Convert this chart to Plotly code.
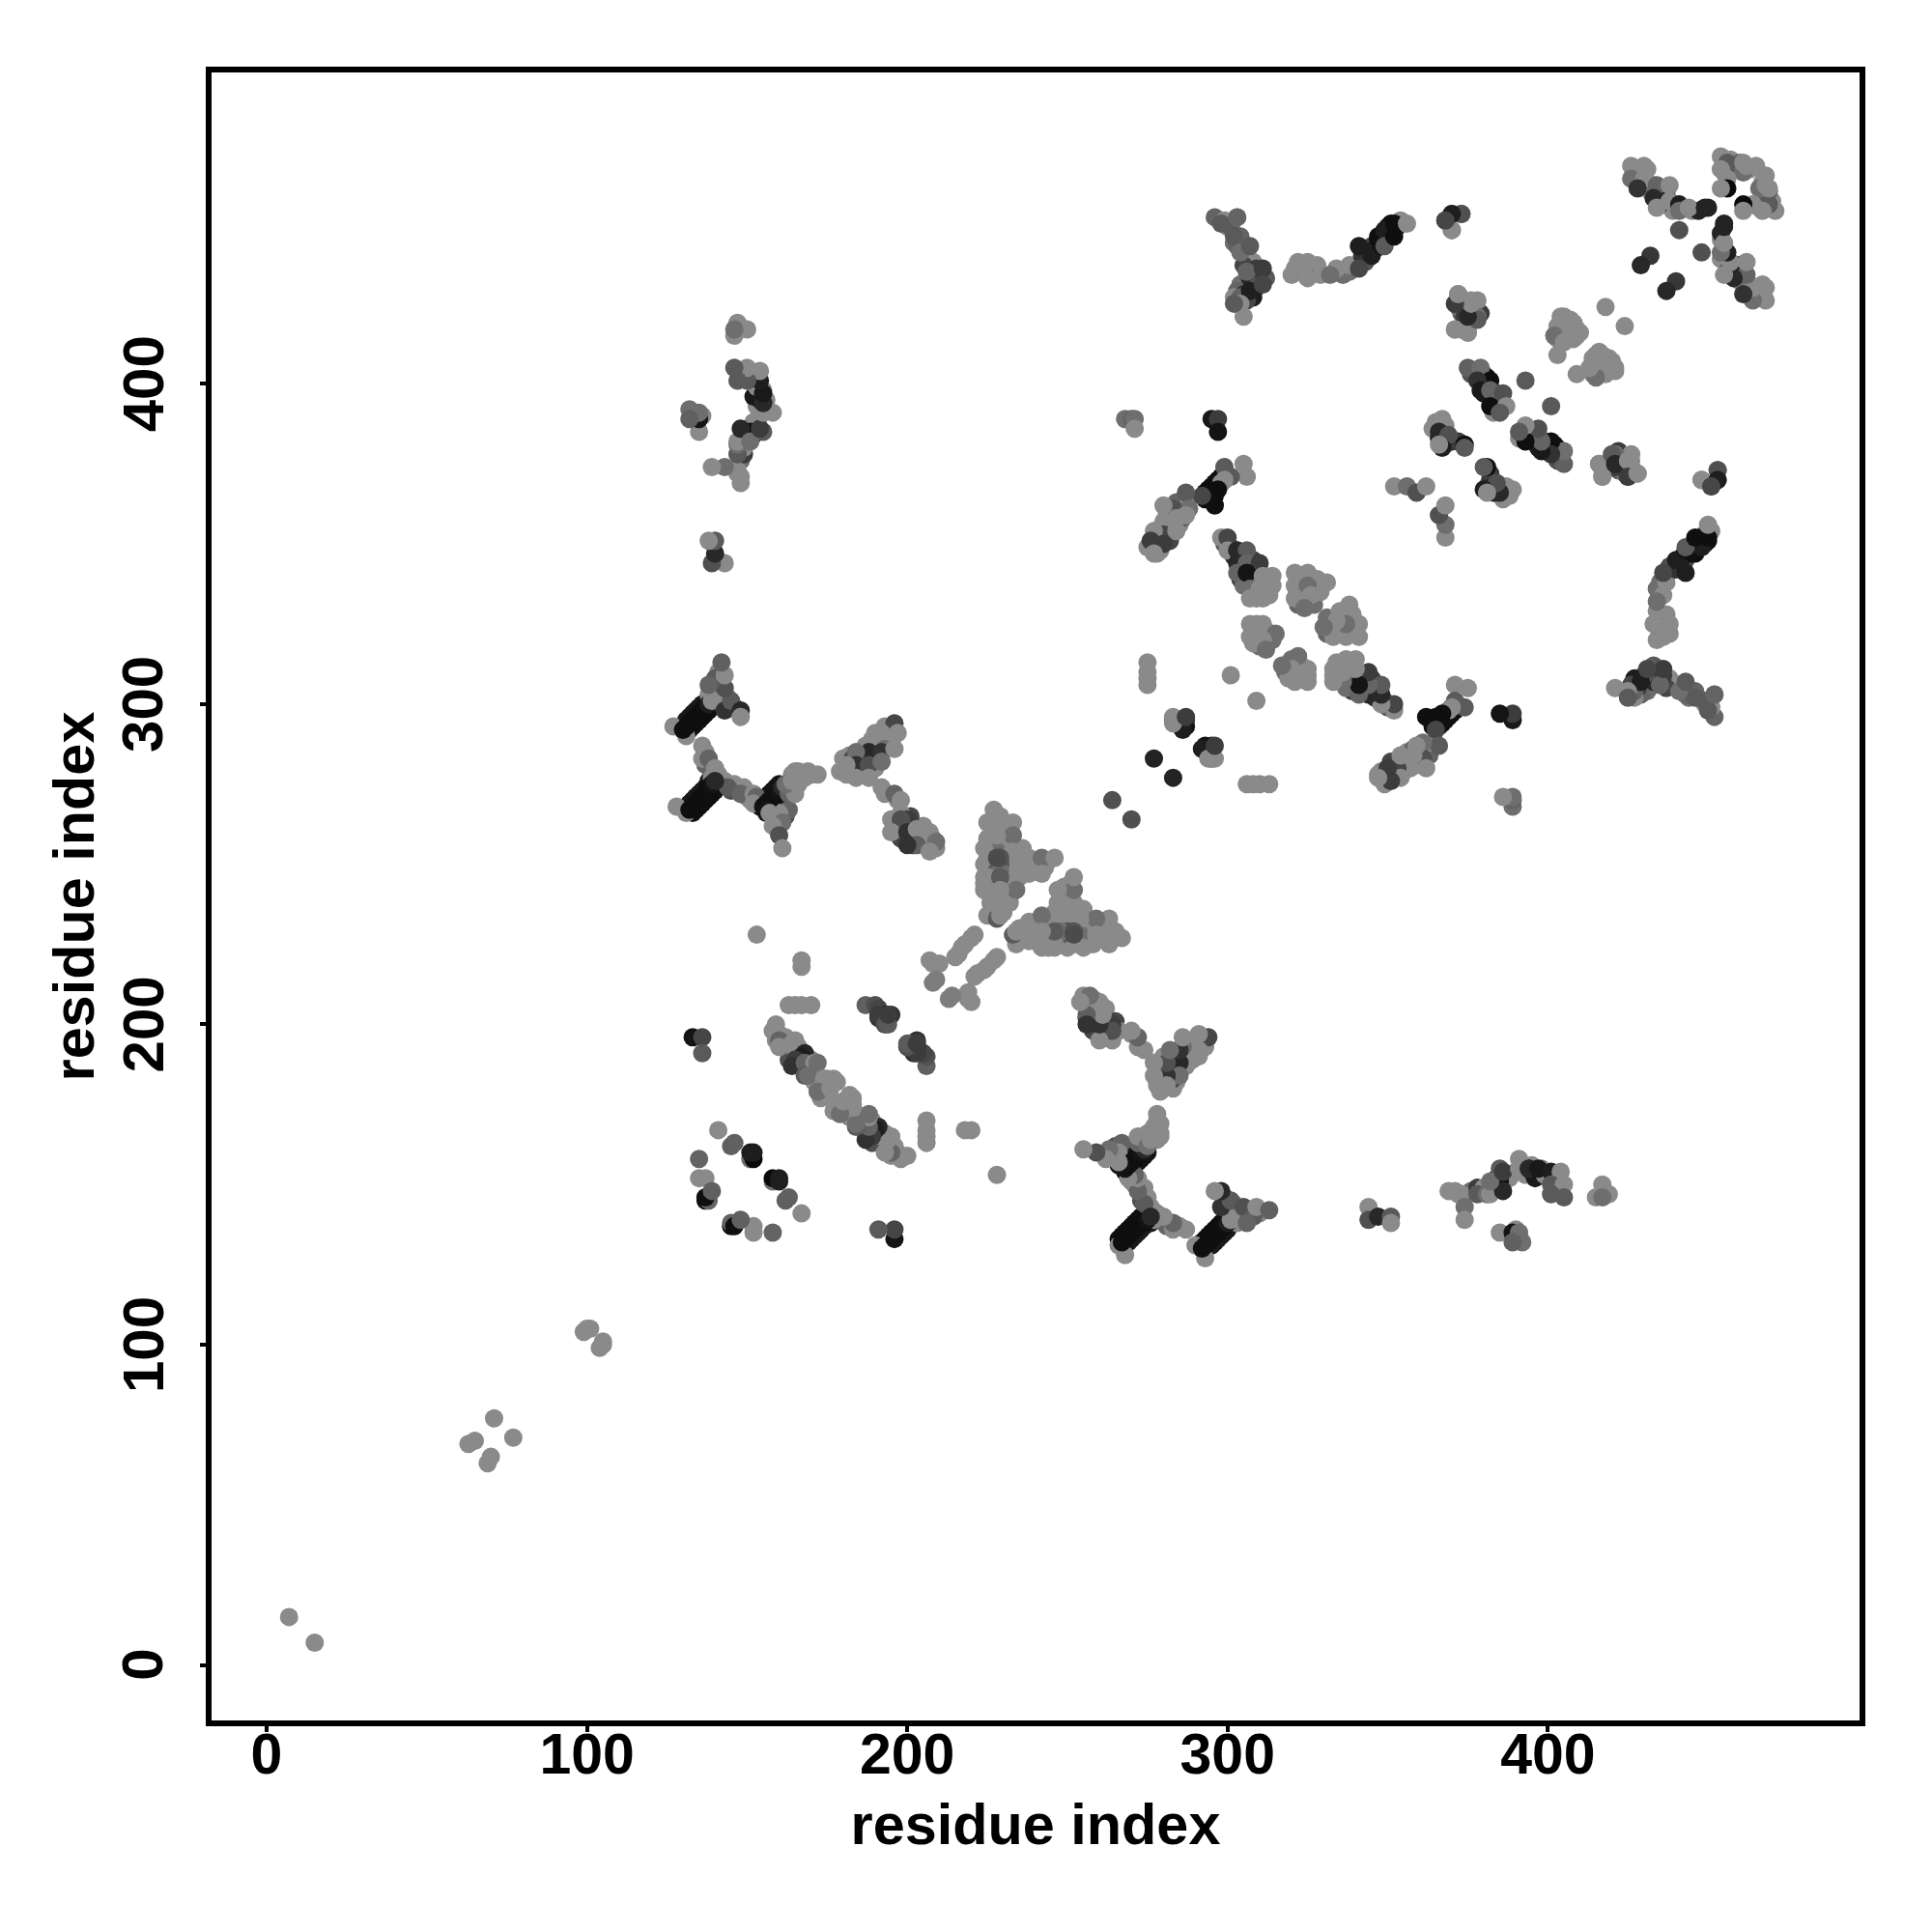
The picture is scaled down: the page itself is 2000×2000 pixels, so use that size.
import plotly.graph_objects as go

# one half of a symmetric contact map: residue pairs (i < j) and their grey level
residue_i = [
 7,63,65,71,99,100,101,
 135,135,137,137,138,137,139,141,145,146,151,152,152,151,
 133,136,136,
 163,165,167,170,167,167,153,
 159,158,159,160,160,164,165,165,168,167,165,164,168,171,172,168,169,173,174,175,172,176,178,
 187,190,191,191,193,195,191,193,194,194,
 127,131,130,131,132,133,134,135,136,137,138,139,143,145,148,148,143,140,138,143,142,
 136,136,138,140,139,144,148,152,153,152,
 128,131,132,133,134,135,136,137,138,139,140,
 155,156,157,158,159,160,161,156,157,163,165,165,169,172,167,161,158,160,161,162,164,
 196,197,192,189,188,193,192,196,184,184,188,192,181,181,184,188,192,196,198,
 195,200,198,195,200,203,207,203,200,209,207,
 227,228,225,233,233,228,224,233,229,228,238,242,246,225,229,238,242,224,234,229,230,225,228,229,
 221,220,218,217,216,215,207,208,210,209,208,
 143,139,140,140,138,
 148,148,143,139,147,147,147,151,148,155,151,158,154,155,155,155,154,154,150,150,147,146,
 150,146,147,146,135,135,135,132,132,
 268,270,271,271,295,297,297,
 299,305,306,301,299,298,297,296,295,294,296,292,
 287,288,283,280,287,284,280,280,284,277,280,276,277,
 298,300,300,303,306,303,306,310,303,306,311,314,307,310,314,307,311,
 321,325,331,321,325,321,326,324,307,311,307,315,311,312,
 275,275,275,275,301,
 283,287,287,286,283,283,287,277,264,
 321,325,325,332,338,342,345,348,341,341,347,349,349,352,352,356,
 370,373,368,370,
 298,303,302,304,307,306,311,304,307,311,304,305,302,
 372,376,371,378,374,371,375,
 375,379,382,378,379,382,386,382,387,385,393,
 365,367,366,369,367,374,374,366,
 352,356,359,362,
 405,403,404,406,407,409,410,408,402,405,407,418,403,
 426,430,426,430,428,434,438,433,434,438,441,441,444,449,
 454,456,461,462,454,456,456,454,
 441,432,429,
 373,370,370,368,375,378,371,375,376,371,372,
]
residue_j = [
 15,69,70,77,104,105,105,
 158,152,152,145,145,146,148,167,162,163,158,158,160,160,
 196,196,191,
 206,206,206,206,218,220,228,
 200,198,195,195,193,194,192,195,191,190,189,187,188,188,188,184,184,180,183,183,179,180,182,
 206,206,205,202,203,203,203,200,200,203,
 293,290,292,293,294,295,296,297,298,299,300,301,298,301,298,296,305,308,306,309,313,
 287,283,283,280,277,274,272,272,271,269,
 268,266,267,268,269,270,271,272,274,275,276,
 268,269,270,271,272,273,274,267,266,272,272,279,279,278,277,263,262,259,255,275,276,
 294,291,291,289,285,286,285,286,285,281,281,282,281,278,277,277,274,272,270,
 264,264,264,260,260,261,260,256,256,257,254,
 267,263,263,263,259,259,255,254,252,252,252,252,252,246,246,247,247,242,242,242,238,234,233,234,
 228,227,225,224,222,221,220,219,219,214,213,
 344,344,347,351,351,
 369,371,374,374,378,381,382,385,386,385,382,391,386,391,394,397,401,404,401,405,401,405,
 417,415,419,417,385,389,391,392,389,
 389,389,389,386,389,389,385,
 374,375,371,371,370,369,367,365,366,367,362,365,
 366,361,361,362,359,358,357,353,354,354,350,351,347,
 352,352,348,348,348,344,344,344,341,341,340,340,336,336,337,333,333,
 341,341,338,337,337,333,334,330,325,325,321,322,320,317,
 313,310,308,306,309,
 295,295,293,292,296,294,296,283,270,
 436,438,433,434,437,440,440,443,443,436,446,448,443,446,450,450,
 453,453,451,448,
 450,452,446,441,443,435,436,427,429,431,425,421,425,
 428,426,425,421,421,417,416,
 405,405,401,401,398,398,397,393,393,391,401,
 388,389,385,384,380,381,380,381,
 368,368,366,368,
 421,418,419,420,418,417,416,414,415,413,415,424,409,
 468,468,464,464,461,462,462,458,455,457,456,454,455,455,
 471,469,469,468,467,464,461,461,
 448,440,437,
 453,448,453,451,416,420,417,421,425,425,428,
]
grey_level = [
 138,138,138,138,138,138,138,
 100,138,138,15,100,15,96,138,96,96,110,10,30,30,
 20,70,90,
 138,138,138,138,138,138,138,
 138,138,138,100,138,138,138,138,40,30,60,50,100,138,110,90,110,138,138,138,110,138,138,
 96,80,70,50,40,50,60,80,90,60,
 138,138,15,15,15,15,15,15,15,15,30,138,50,90,40,138,80,90,100,138,96,
 138,138,100,138,138,90,100,138,100,138,
 138,138,15,15,15,15,15,15,15,20,40,
 20,15,15,15,15,20,40,20,138,100,138,138,138,138,138,110,138,80,138,110,138,
 70,138,138,138,40,110,50,138,110,50,80,110,138,138,138,138,138,100,138,
 138,60,80,138,50,138,138,96,50,110,138,
 138,138,138,138,110,138,138,138,85,75,138,110,138,138,90,138,138,138,110,138,138,138,90,138,
 138,138,138,138,138,138,138,138,138,125,125,
 138,80,40,90,138,
 138,138,110,138,90,110,138,15,40,90,110,138,60,138,40,25,30,138,90,138,90,90,
 138,138,138,110,138,20,110,110,96,
 110,100,110,138,25,60,20,
 90,138,138,90,138,138,15,15,15,15,15,70,
 90,110,80,138,138,138,138,70,138,138,60,60,138,
 138,70,138,40,90,40,100,60,100,20,138,138,110,138,138,138,138,
 138,138,138,138,110,138,138,110,138,138,138,110,138,110,
 138,138,138,138,138,
 80,50,20,30,138,138,60,35,80,
 138,138,138,110,138,50,30,20,30,70,15,30,90,15,15,138,
 100,80,70,138,
 90,100,90,110,90,100,60,100,30,70,138,138,90,
 138,138,70,110,60,138,138,
 96,110,15,50,25,100,80,15,138,90,90,
 138,138,40,80,30,15,90,138,
 138,110,80,138,
 138,138,138,138,138,138,138,138,110,138,138,138,138,
 138,138,110,138,50,100,138,40,138,138,30,110,138,35,
 138,90,138,138,138,138,10,138,
 80,55,40,
 80,138,30,70,138,90,138,40,138,60,138,
]

# further contacts packed beneath the ones above (they fill the broad bands)
under_i = [
 131,132,133,134,135,136, 131,132,133,134,135,136,137,138,139,140,
 132,133,134,135,136,137,138, 133,134,135,136,137,138,139,140,141,
 154,155,156,157,158,159,160, 156,157,158,159,160,161,162,163,
 295,296,297,298,299,293,294,295,296,297,298,299,300,294,293,
 342,343,344,345,345,346,347,347,348,349,350,350,351,351,353,354,338,336,334,329,328,340,343,
 296,299,300,301,303,302,303,304,305,306,308,305,306,304,307,309,303,305,308,306,302,310,312,309,
 404,405,406,408,408,403,404,406,409,403,405,407,
 225,225,226,227,228,229,230,231,232,226,228,230,232,231,230,231,229,234,235,236,235,237,240,243,244,226,228,230,232,232,230,227,226,231,233,236,224,224,224,229,228,229,228,229,
 278,279,278,281,279,282,283,282,285,286,284,285,288,286,283,281,277,275,278,
 299,301,302,304,304,305,307,308,304,308,309,312,309,313,312,308,305,309,
 322,323,323,324,322,327,328,327,325,323,326,329,322,
 308,309,309,310,312,313,313,310,312,314,308,
 179,180,182,182,183,185,186,186,187,189,190,191,190,193,194,195,193,190,191,196,185,
 197,198,198,201,201,202,204,205,205,208,209,196,201,198,193,197,
 160,161,162,163,162,166,163,166,169,170,170,167,172,171,174,175,174,177,176,173,
 148,147,147,149,149,150,151,152,152,153,153,154,154,152,155,151,148,150,153,156,153,155,
 134,136,
 320,322,326,322,324,
 427,428,429,431,431,432,433,435,436,437,436,439,442,437,435,445,447,450,
 455,457,455,456,459,460,463,461,465,
 373,374,375,372,375,373,376,377,
 376,380,380,380,381,384,384,383,385,
 366,364,368,366,368,370,372,368,
 374,377,379,378,
 141,141,142,144,146,140,142,139,138,141,140,
 137,137,141,142,143,145,150,149,151,146,
 163,166,166,168,170,164,162,159,163,160,
]
under_j = [
 295,296,297,298,299,300, 291,292,293,294,295,296,297,298,299,300,
 269,270,271,272,273,274,276, 266,267,268,269,270,271,272,273,275,
 268,270,271,272,273,274,275, 266,267,268,269,270,271,272,274,
 368,369,370,371,372,364,365,366,367,368,369,370,371,367,366,
 439,441,440,441,443,442,443,445,446,445,447,449,448,450,449,451,435,434,436,434,437,437,438,
 452,451,449,449,452,444,443,446,441,440,438,437,433,431,433,430,429,428,427,426,427,434,433,436,
 421,420,417,416,419,416,414,415,415,414,416,420,
 258,252,250,248,256,254,252,250,248,244,244,246,244,256,260,262,265,250,248,252,246,249,249,249,251,238,240,242,240,238,235,236,240,244,247,255,250,246,244,250,248,248,254,252,
 352,348,349,354,355,351,356,357,360,362,363,356,364,358,359,359,352,349,347,
 350,349,346,346,343,342,343,345,339,338,341,336,333,334,339,334,337,338,
 339,340,336,334,334,336,339,331,331,332,339,335,331,
 323,325,321,323,323,320,322,318,318,320,319,
 279,283,279,284,283,283,280,284,287,283,286,289,291,290,288,292,293,280,283,291,279,
 262,258,263,262,258,256,258,262,257,258,255,261,265,266,272,270,
 197,194,193,192,196,193,189,190,187,186,189,187,184,182,180,179,178,183,177,177,
 376,373,372,378,380,383,383,384,388,387,393,390,395,396,398,402,404,403,402,395,399,394,
 391,390,
 434,435,436,438,435,
 467,466,463,467,461,460,462,459,458,459,456,454,455,460,456,454,454,455,
 470,470,466,466,468,469,467,466,468,
 422,426,424,424,418,417,420,422,
 403,403,400,397,402,397,394,391,394,
 388,386,387,383,381,382,382,383,
 417,423,422,426,
 310,307,303,302,299,304,300,303,303,305,306,
 285,281,278,276,276,273,271,274,270,275,
 275,275,279,277,278,278,265,264,267,266,
]
under_grey = [
 25,25,25,25,25,25, 15,15,15,15,15,15,15,15,15,15,
 25,25,25,25,25,25,25, 15,15,15,15,15,15,15,15,15,
 20,20,20,20,20,20,20, 25,25,25,25,25,25,25,25,
 15,15,15,15,15,15,15,15,15,15,15,15,15,15,15,
 50,60,30,30,70,25,40,15,30,15,20,40,25,15,60,138,110,110,138,138,138,70,80,
 100,138,138,90,138,110,100,100,100,110,138,70,60,110,40,90,100,60,30,70,138,80,90,60,
 138,138,138,138,138,138,138,138,138,138,138,138,
 138,138,138,138,138,138,138,138,138,138,
 138,138,138,138,138,138,138,138,138,138,
 138,138,138,138,138,138,138,138,138,138,
 138,138,138,138,138,138,138,138,138,
 80,90,110,110,70,
 90,138,100,90,138,70,138,138,138,138,100,138,138,100,110,138,138,138,138,
 90,100,40,90,50,30,100,60,60,138,138,138,138,138,138,138,110,110,
 138,138,138,138,138,138,138,110,110,138,138,138,100,
 138,138,138,138,138,138,138,110,110,110,138,
 138,138,138,138,70,70,138,138,138,90,60,110,138,138,138,100,138,138,40,138,138,
 100,70,60,50,50,50,138,138,138,138,138,138,70,138,138,138,
 138,138,110,80,138,138,80,80,110,100,138,110,138,138,138,138,138,138,138,138,
 110,138,138,60,138,40,25,30,138,138,138,138,50,25,138,138,138,138,138,138,138,30,
 138,138,
 138,138,138,138,110,
 138,138,110,138,138,138,110,138,138,138,138,138,138,40,60,138,35,35,
 138,138,138,138,90,100,138,110,138,
 90,138,138,110,138,138,90,138,
 80,100,60,25,15,90,15,138,100,
 138,138,138,30,138,50,60,30,
 138,60,60,138,
 138,90,90,138,80,138,138,138,138,138,138,
 138,100,138,138,138,80,100,138,138,138,
 110,138,138,138,138,138,80,138,100,138,
]
assert len(residue_i) == len(residue_j) == len(grey_level)
assert len(under_i) == len(under_j) == len(under_grey)

tick_values = [0, 100, 200, 300, 400]
axis_label = "residue index"

half_i = under_i + residue_i
half_j = under_j + residue_j
half_grey = under_grey + grey_level
xs = half_i + half_j
ys = half_j + half_i
colours = [f"rgb({g},{g},{g})" for g in half_grey + half_grey]

tick_font = dict(family="Liberation Sans", size=59, color="black", weight="bold")
ytick_font = dict(family="Liberation Sans", size=60, color="black", weight="bold")
title_font = dict(family="Liberation Sans", size=59.4, color="black", weight="bold")
fig = go.Figure(go.Scatter(x=xs, y=ys, mode="markers",
                           marker=dict(size=19, color=colours, line=dict(width=0)),
                           hoverinfo="skip"))
axis = dict(tickvals=tick_values, showgrid=False, zeroline=False,
            showline=True, mirror=True, linecolor="black", linewidth=6,
            ticks="outside", ticklen=6, tickwidth=4, tickcolor="black",
            tickfont=tick_font, automargin=False)
fig.update_layout(width=2000, height=2000, plot_bgcolor="white", paper_bgcolor="white",
                  margin=dict(l=211, r=83, t=67, b=227), showlegend=False,
                  xaxis=dict(axis, range=[-17.2, 497.3], ticklabelstandoff=-28,
                             title=dict(text=axis_label, font=title_font, standoff=22)),
                  yaxis=dict(axis, range=[-17.3, 497.2], showticklabels=False,
                             title=dict(text=axis_label, font=title_font, standoff=92)))
for value in tick_values:
    fig.add_annotation(text=str(value), x=0, xref="paper", y=value, yref="y",
                       xanchor="center", yanchor="middle", xshift=-71, textangle=-90,
                       showarrow=False, font=ytick_font)
fig.write_html("out.html")
